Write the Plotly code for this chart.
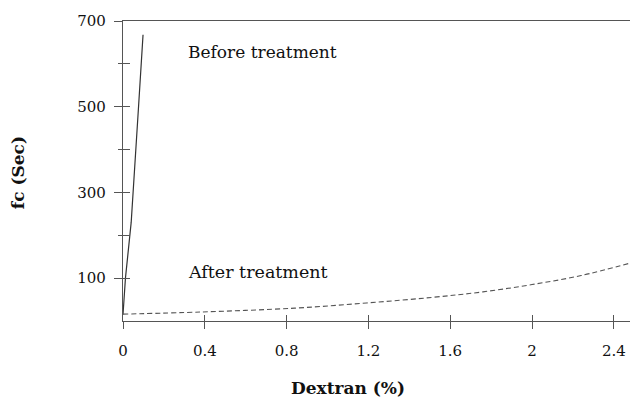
import plotly.graph_objects as go

# Clotting time fc (s) versus dextran concentration (%)
before_x = [0.0, 0.012, 0.04, 0.05, 0.076, 0.098]
before_y = [15, 100, 230, 300, 500, 668]

after_x = [0.0, 0.38, 0.84, 1.19, 1.51, 1.76, 2.0, 2.24, 2.479]
after_y = [16, 21, 30, 42, 55, 68, 85, 106, 135]

x_ticks = [0, 0.4, 0.8, 1.2, 1.6, 2.0, 2.4]
x_labels = ["0", "0.4", "0.8", "1.2", "1.6", "2", "2.4"]
y_ticks = [100, 300, 500, 700]
y_labels = ["100", "300", "500", "700"]

FONT = "DejaVu Serif"
INK = "#111111"
AXIS = "#555555"

fig = go.Figure()

fig.add_trace(go.Scatter(
    x=before_x, y=before_y, mode="lines",
    line=dict(color="#333333", width=1.2),
    showlegend=False, hoverinfo="skip",
))
fig.add_trace(go.Scatter(
    x=after_x, y=after_y, mode="lines", line_shape="spline",
    line=dict(color="#555555", width=1.1, dash="5px,3px"),
    showlegend=False, hoverinfo="skip",
))
# empty trace on the overlay axes so their inward tick marks are drawn
fig.add_trace(go.Scatter(
    x=[None], y=[None], xaxis="x2", yaxis="y2",
    showlegend=False, hoverinfo="skip",
))

fig.add_annotation(x=0.308, y=628, text="Before treatment", showarrow=False,
                   xanchor="left", yanchor="middle",
                   font=dict(family=FONT, size=17, color=INK))
fig.add_annotation(x=0.308, y=114, text="After treatment", showarrow=False,
                   xanchor="left", yanchor="middle",
                   font=dict(family=FONT, size=17.5, color=INK))

# axis titles
fig.add_annotation(xref="paper", yref="paper", x=0.443, y=-0.222,
                   text="<b>Dextran (%)</b>", showarrow=False,
                   xanchor="center", yanchor="middle",
                   font=dict(family=FONT, size=17, color=INK))
fig.add_annotation(xref="paper", yref="paper", x=-0.207, y=0.493,
                   text="<b>fc (Sec)</b>", showarrow=False, textangle=-90,
                   xanchor="center", yanchor="middle",
                   font=dict(family=FONT, size=17, color=INK))

x_range = [0, 2.479]
y_range = [0, 700]

fig.update_layout(
    width=630, height=398,
    margin=dict(l=123, r=0, t=21, b=77),
    paper_bgcolor="white", plot_bgcolor="white",
    font=dict(family=FONT, size=15, color=INK),
    xaxis=dict(
        range=x_range, tickvals=x_ticks, ticktext=x_labels,
        showgrid=False, zeroline=False,
        showline=True, linecolor=AXIS, linewidth=1, mirror=True,
        ticks="outside", ticklen=7, tickcolor=AXIS, tickwidth=1,
        ticklabelstandoff=9,
        tickfont=dict(family=FONT, size=15, color=INK),
    ),
    yaxis=dict(
        range=y_range, tickvals=y_ticks, ticktext=y_labels,
        showgrid=False, zeroline=False,
        showline=True, linecolor=AXIS, linewidth=1.3,
        ticks="outside", ticklen=8, tickcolor=AXIS, tickwidth=1,
        ticklabelstandoff=5,
        minor=dict(tickvals=[200, 400, 600], ticks="outside", ticklen=4,
                   tickcolor=AXIS, tickwidth=1),
        tickfont=dict(family=FONT, size=15, color=INK),
    ),
    xaxis2=dict(
        range=x_range, overlaying="x", anchor="y2", side="bottom",
        tickvals=[0.4, 0.8, 1.2, 1.6, 2.0, 2.4], showticklabels=False,
        ticks="inside", ticklen=6, tickcolor=AXIS, tickwidth=1,
        showgrid=False, zeroline=False, showline=False,
    ),
    yaxis2=dict(
        range=y_range, overlaying="y", anchor="x2", side="left",
        tickvals=[100, 200, 300, 400, 500, 600, 700], showticklabels=False,
        ticks="inside", ticklen=7, tickcolor=AXIS, tickwidth=1,
        showgrid=False, zeroline=False, showline=False,
    ),
)

fig.write_html("out.html")
